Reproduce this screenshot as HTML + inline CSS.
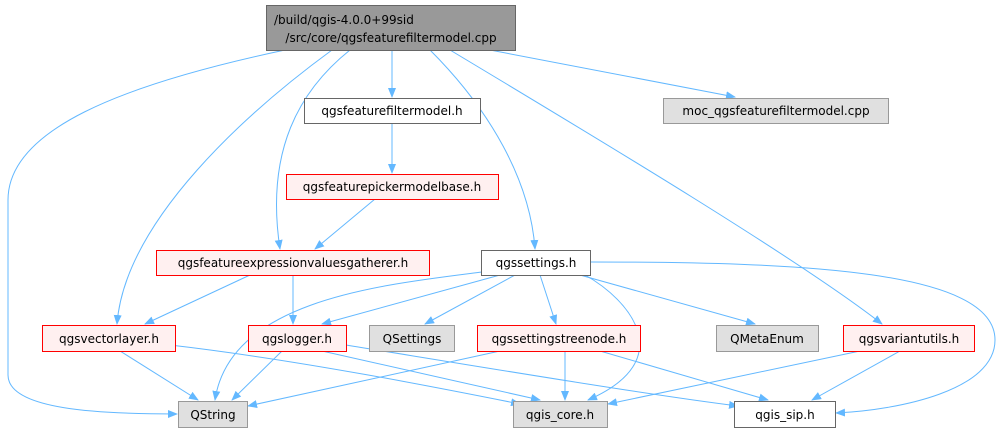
<!DOCTYPE html>
<html><head><meta charset="utf-8"><style>
html,body{margin:0;padding:0;background:#fff;}
svg text{font-family:"DejaVu Sans","Liberation Sans",sans-serif;font-size:12px;fill:#000;}
</style></head><body>
<svg width="1002" height="434" viewBox="0 0 1002 434" xmlns="http://www.w3.org/2000/svg">
<defs><marker id="a" markerWidth="10" markerHeight="8" refX="9" refY="4" orient="auto" markerUnits="userSpaceOnUse"><path d="M0,0 L10,4 L0,8 z" fill="#63b8ff"/></marker></defs>
<g fill="none" stroke="#63b8ff" stroke-width="1" marker-end="url(#a)">
<path d="M285,50 C120,85 8,130 8,200 L8,375 C8,410 100,414 177,414"/>
<path d="M332,50 C250,110 125,220 117,324"/>
<path d="M350,50 C300,90 265,150 280,249"/>
<path d="M392,50 L392,97"/>
<path d="M430,50 C490,110 530,180 535,249"/>
<path d="M450,50 C600,140 800,260 882,324"/>
<path d="M490,50 L735,97"/>
<path d="M392,123 L392,173"/>
<path d="M375,199 L315,249"/>
<path d="M250,275 L145,324"/>
<path d="M293,275 L293,324"/>
<path d="M482,272 C380,285 230,300 215,400"/>
<path d="M500,275 L322,324"/>
<path d="M515,275 L425,324"/>
<path d="M540,275 L556,324"/>
<path d="M585,275 C630,300 680,360 588,400"/>
<path d="M580,275 L755,324"/>
<path d="M590,262 C800,262 995,270 995,340 C995,390 900,410 836,413"/>
<path d="M120,351 L198,400"/>
<path d="M170,345 C300,360 450,390 520,404"/>
<path d="M282,351 L232,400"/>
<path d="M322,351 L540,400"/>
<path d="M346,345 C500,370 650,395 738,406"/>
<path d="M500,351 L248,406"/>
<path d="M565,351 L565,400"/>
<path d="M600,351 L768,400"/>
<path d="M860,351 L608,404"/>
<path d="M900,351 L812,400"/>
</g>
<g stroke-width="1">
<rect x="266.5" y="5.5" width="249" height="45" fill="#999" stroke="#666"/>
<rect x="304.5" y="98.5" width="176" height="25" fill="#fff" stroke="#666"/>
<rect x="663.5" y="98.5" width="225" height="25" fill="#e0e0e0" stroke="#999"/>
<rect x="286.5" y="174.5" width="212" height="25" fill="#fff0f0" stroke="#f00"/>
<rect x="156.5" y="250.5" width="273" height="25" fill="#fff0f0" stroke="#f00"/>
<rect x="481.5" y="250.5" width="109" height="25" fill="#fff" stroke="#666"/>
<rect x="42.5" y="325.5" width="133" height="26" fill="#fff0f0" stroke="#f00"/>
<rect x="248.5" y="325.5" width="98" height="26" fill="#fff0f0" stroke="#f00"/>
<rect x="369.5" y="325.5" width="85" height="26" fill="#e0e0e0" stroke="#999"/>
<rect x="477.5" y="325.5" width="163" height="26" fill="#fff0f0" stroke="#f00"/>
<rect x="716.5" y="325.5" width="102" height="26" fill="#e0e0e0" stroke="#999"/>
<rect x="843.5" y="325.5" width="131" height="26" fill="#fff0f0" stroke="#f00"/>
<rect x="178.5" y="401.5" width="69" height="26" fill="#e0e0e0" stroke="#999"/>
<rect x="513.5" y="401.5" width="94" height="26" fill="#e0e0e0" stroke="#999"/>
<rect x="734.5" y="401.5" width="101" height="26" fill="#fff" stroke="#666"/>
</g>
<g>
<text x="274" y="24">/build/qgis-4.0.0+99sid</text>
<text x="391" y="42" text-anchor="middle">/src/core/qgsfeaturefiltermodel.cpp</text>
<text x="392" y="115" text-anchor="middle">qgsfeaturefiltermodel.h</text>
<text x="776" y="115" text-anchor="middle">moc_qgsfeaturefiltermodel.cpp</text>
<text x="392" y="191" text-anchor="middle">qgsfeaturepickermodelbase.h</text>
<text x="293" y="267" text-anchor="middle">qgsfeatureexpressionvaluesgatherer.h</text>
<text x="536" y="267" text-anchor="middle">qgssettings.h</text>
<text x="109" y="343" text-anchor="middle">qgsvectorlayer.h</text>
<text x="297" y="343" text-anchor="middle">qgslogger.h</text>
<text x="412" y="343" text-anchor="middle">QSettings</text>
<text x="559" y="343" text-anchor="middle">qgssettingstreenode.h</text>
<text x="767" y="343" text-anchor="middle">QMetaEnum</text>
<text x="909" y="343" text-anchor="middle">qgsvariantutils.h</text>
<text x="213" y="419" text-anchor="middle">QString</text>
<text x="560" y="419" text-anchor="middle">qgis_core.h</text>
<text x="785" y="419" text-anchor="middle">qgis_sip.h</text>
</g>
</svg>
</body></html>
